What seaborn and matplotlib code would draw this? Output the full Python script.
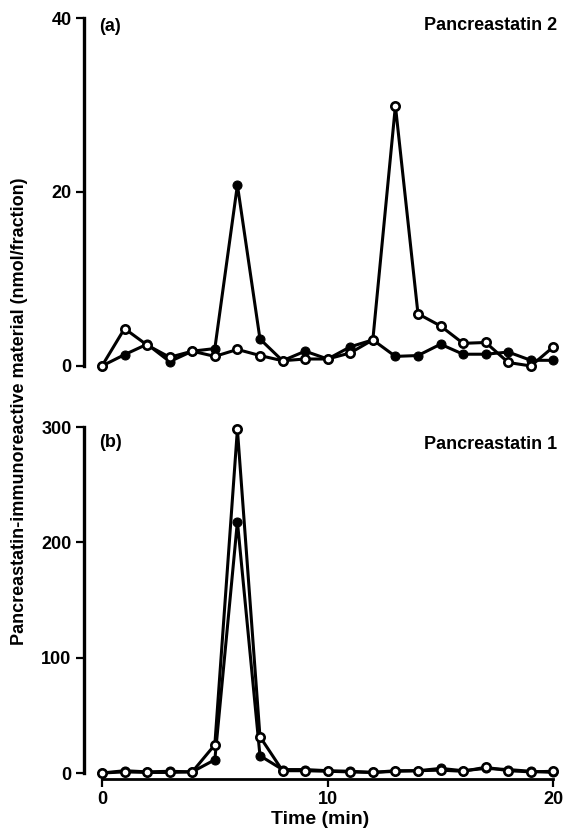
import numpy as np
import matplotlib
matplotlib.use("Agg")
import matplotlib.pyplot as plt
import seaborn as sns

# Fraction time (min)
time = list(range(21))

# (a) Pancreastatin 2
ps2_open = [0, 4.3, 2.4, 1.0, 1.7, 1.1, 1.9, 1.2, 0.6, 0.8, 0.8, 1.5,
            3.0, 29.9, 6.0, 4.6, 2.6, 2.7, 0.4, 0.0, 2.2]
ps2_filled = [0, 1.3, 2.5, 0.5, 1.7, 2.0, 20.8, 3.1, 0.6, 1.7, 0.8, 2.2,
              3.0, 1.1, 1.2, 2.5, 1.35, 1.35, 1.6, 0.65, 0.65]

# (b) Pancreastatin 1
ps1_open = [0, 1, 0.5, 0.5, 1, 24.5, 298, 31.5, 2, 2, 1.5, 1, 0.5, 1.5,
            2, 2.5, 1.5, 5, 2, 1, 1.5]
ps1_filled = [0, 2, 1, 1.5, 1, 11.5, 218, 15, 3, 3, 2, 1.5, 0.5, 2, 2,
              4, 2, 4, 3, 1.5, 0.5]

x_ticks = [0, 10, 20]
ticks_a = [0, 20, 40]
ticks_b = [0, 100, 200, 300]

sns.set_style("ticks")
plt.rcParams['font.family'] = ['Liberation Sans', 'DejaVu Sans']
plt.rcParams['font.weight'] = 'bold'
plt.rcParams['text.color'] = 'black'
plt.rcParams['axes.edgecolor'] = 'black'
plt.rcParams['xtick.color'] = 'black'
plt.rcParams['ytick.color'] = 'black'
plt.rcParams['axes.labelcolor'] = 'black'

fig = plt.figure(figsize=(5.67, 8.30), dpi=100)
ax_a = fig.add_axes([0.148, 0.5486, 0.834, 0.4297])
ax_b = fig.add_axes([0.148, 0.0617, 0.834, 0.4238])


def draw_pair(ax, y_open, y_filled):
    sns.lineplot(x=time, y=y_filled, ax=ax, color='black', lw=2.2,
                 marker='o', markersize=6.5, markerfacecolor='black',
                 markeredgecolor='black', clip_on=False, zorder=3)
    sns.lineplot(x=time, y=y_open, ax=ax, color='black', lw=2.2,
                 marker='o', markersize=6, markerfacecolor='white',
                 markeredgecolor='black', markeredgewidth=1.9,
                 clip_on=False, zorder=4)


draw_pair(ax_a, ps2_open, ps2_filled)
draw_pair(ax_b, ps1_open, ps1_filled)

for ax in (ax_a, ax_b):
    ax.set_xlim(-0.8, 20.15)
    ax.spines['top'].set_visible(False)
    ax.spines['right'].set_visible(False)
    ax.spines['left'].set_linewidth(2.4)
    ax.tick_params(axis='both', direction='out', length=6, width=1.6,
                   labelsize=13, pad=3)

# panel (a)
ax_a.set_ylim(-1, 40)
ax_a.spines['left'].set_bounds(0, 40)
ax_a.spines['bottom'].set_visible(False)
ax_a.set_yticks(ticks_a)
ax_a.set_yticklabels([str(t) for t in ticks_a], fontweight='bold')
ax_a.set_xticks([])
ax_a.text(0.033, 0.975, '(a)', transform=ax_a.transAxes, fontsize=13,
          fontweight='bold', va='center', ha='left')
ax_a.text(1.0, 0.978, 'Pancreastatin 2', transform=ax_a.transAxes,
          fontsize=13, fontweight='bold', va='center', ha='right')

# panel (b)
ax_b.set_ylim(-5, 300)
ax_b.spines['left'].set_bounds(0, 300)
ax_b.spines['bottom'].set_bounds(0, 20)
ax_b.spines['bottom'].set_linewidth(2.0)
ax_b.set_yticks(ticks_b)
ax_b.set_yticklabels([str(t) for t in ticks_b], fontweight='bold')
ax_b.set_xticks(x_ticks)
ax_b.set_xticklabels([str(t) for t in x_ticks], fontweight='bold')
ax_b.text(0.033, 0.955, '(b)', transform=ax_b.transAxes, fontsize=13,
          fontweight='bold', va='center', ha='left')
ax_b.text(1.0, 0.95, 'Pancreastatin 1', transform=ax_b.transAxes,
          fontsize=13, fontweight='bold', va='center', ha='right')
ax_b.set_xlabel('Time (min)', fontsize=14, fontweight='bold', labelpad=2)

fig.text(0.035, 0.505, 'Pancreastatin-immunoreactive material (nmol/fraction)',
         rotation=90, va='center', ha='center', fontsize=13, fontweight='bold')

fig.savefig('out.png', dpi=100)
